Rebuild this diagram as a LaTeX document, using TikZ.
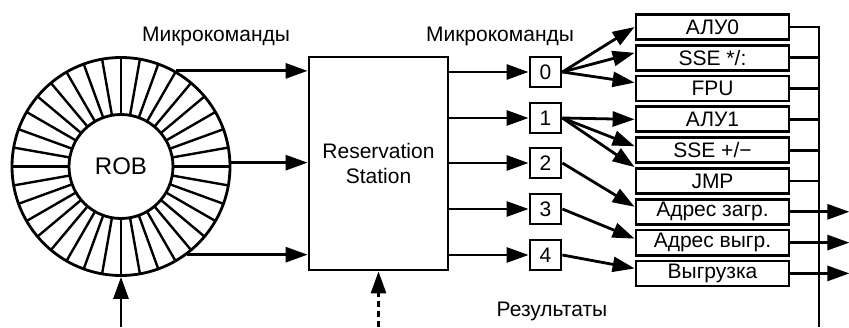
\documentclass[tikz,border=0pt]{standalone}
\usepackage{fontspec}
\setmainfont{Liberation Sans}
\usetikzlibrary{arrows.meta}

\begin{document}
\begin{tikzpicture}[x = 1pt, y = 1pt, line width = 2.8pt,
	font = \fontsize{21}{25}\selectfont,
	>={Triangle[length = 22pt, width = 15pt]},
	port/.style = {draw, minimum width = 31pt, minimum height = 30pt, inner sep = 0pt},
	unit/.style = {draw, minimum width = 153pt, minimum height = 25pt, inner sep = 0pt}]
	\useasboundingbox (0,0) rectangle (849,327);
	% reorder buffer ring
	\node [circle, draw, minimum size = 218pt, inner sep = 0pt, font = \fontsize{24}{28}\selectfont] (rob) at (121,160.5) {ROB};
	\draw (rob.center) circle (52pt);
	\foreach \a in {0,10,...,350}
		\draw [line width = 2.4pt] (rob.center) ++(\a:52) -- ++(\a:57);
	\node [draw, minimum width = 139pt, minimum height = 213pt, align = center] (rs) at (378.5,163.5) {Reservation\\Station};
	\draw [->] (rob.60) -- (rob.60 -| rs.west);
	\draw [->] (rob.2) -- (rob.2 -| rs.west);
	\draw [->] (rob.-53) -- (rob.-53 -| rs.west);
	% ports
	\foreach \i/\y in {0/255, 1/209, 2/164, 3/118, 4/72} {
		\node [port] (p\i) at (545.5,\y) {\i};
		\draw [->] (rs.east |- p\i) -- (p\i);
	}
	% execution units
	\node [unit] (alu0) at (712.5,300) {АЛУ0};
	\node [unit] (ssemul) at (712.5,269.2) {SSE */:};
	\node [unit] (fpu) at (712.5,238.4) {FPU};
	\node [unit] (alu1) at (712.5,207.6) {АЛУ1};
	\node [unit] (sseadd) at (712.5,176.8) {SSE +/−};
	\node [unit] (jmp) at (712.5,146) {JMP};
	\node [unit] (load) at (712.5,115.2) {Адрес загр.};
	\node [unit] (staddr) at (712.5,84.4) {Адрес выгр.};
	\node [unit] (stdata) at (712.5,53.6) {Выгрузка};
	\draw [->] (p0.east) -- (alu0.west);
	\draw [->] (p0.east) -- ([yshift = 5pt]ssemul.west);
	\draw [->] (p0.east) -- ([yshift = 6pt]fpu.west);
	\draw [->] (p1.east) -- (alu1.west);
	\draw [->] (p1.east) -- ([yshift = 4pt]sseadd.west);
	\draw [->] (p1.east) -- (jmp.north west);
	\draw [->] (p2.east) -- ([yshift = 5pt]load.west);
	\draw [->] (p3.east) -- ([yshift = 4pt]staddr.west);
	\draw [->] (p4.east) -- ([yshift = 5pt]stdata.west);
	% result bus
	\coordinate (busend) at (819,0);
	\draw (alu0.east) -| (busend);
	\foreach \u in {ssemul, fpu, alu1, sseadd, jmp}
		\draw (\u.east) -- (\u.east -| busend);
	\foreach \u in {load, staddr, stdata}
		\draw [->] (\u.east) -- ++(59,0);
	% labels and inputs from below
	\node (mk1) at (216,291) {Микрокоманды};
	\node (mk2) at (500,291) {Микрокоманды};
	\node (res) at (552,16) {Результаты};
	\coordinate (robin) at (121,0);
	\coordinate (rsin) at (378.5,0);
	\draw [->] (robin) -- (rob);
	\draw [->, dash pattern = on 6pt off 4pt] (rsin) -- (rs);
\end{tikzpicture}
\end{document}
